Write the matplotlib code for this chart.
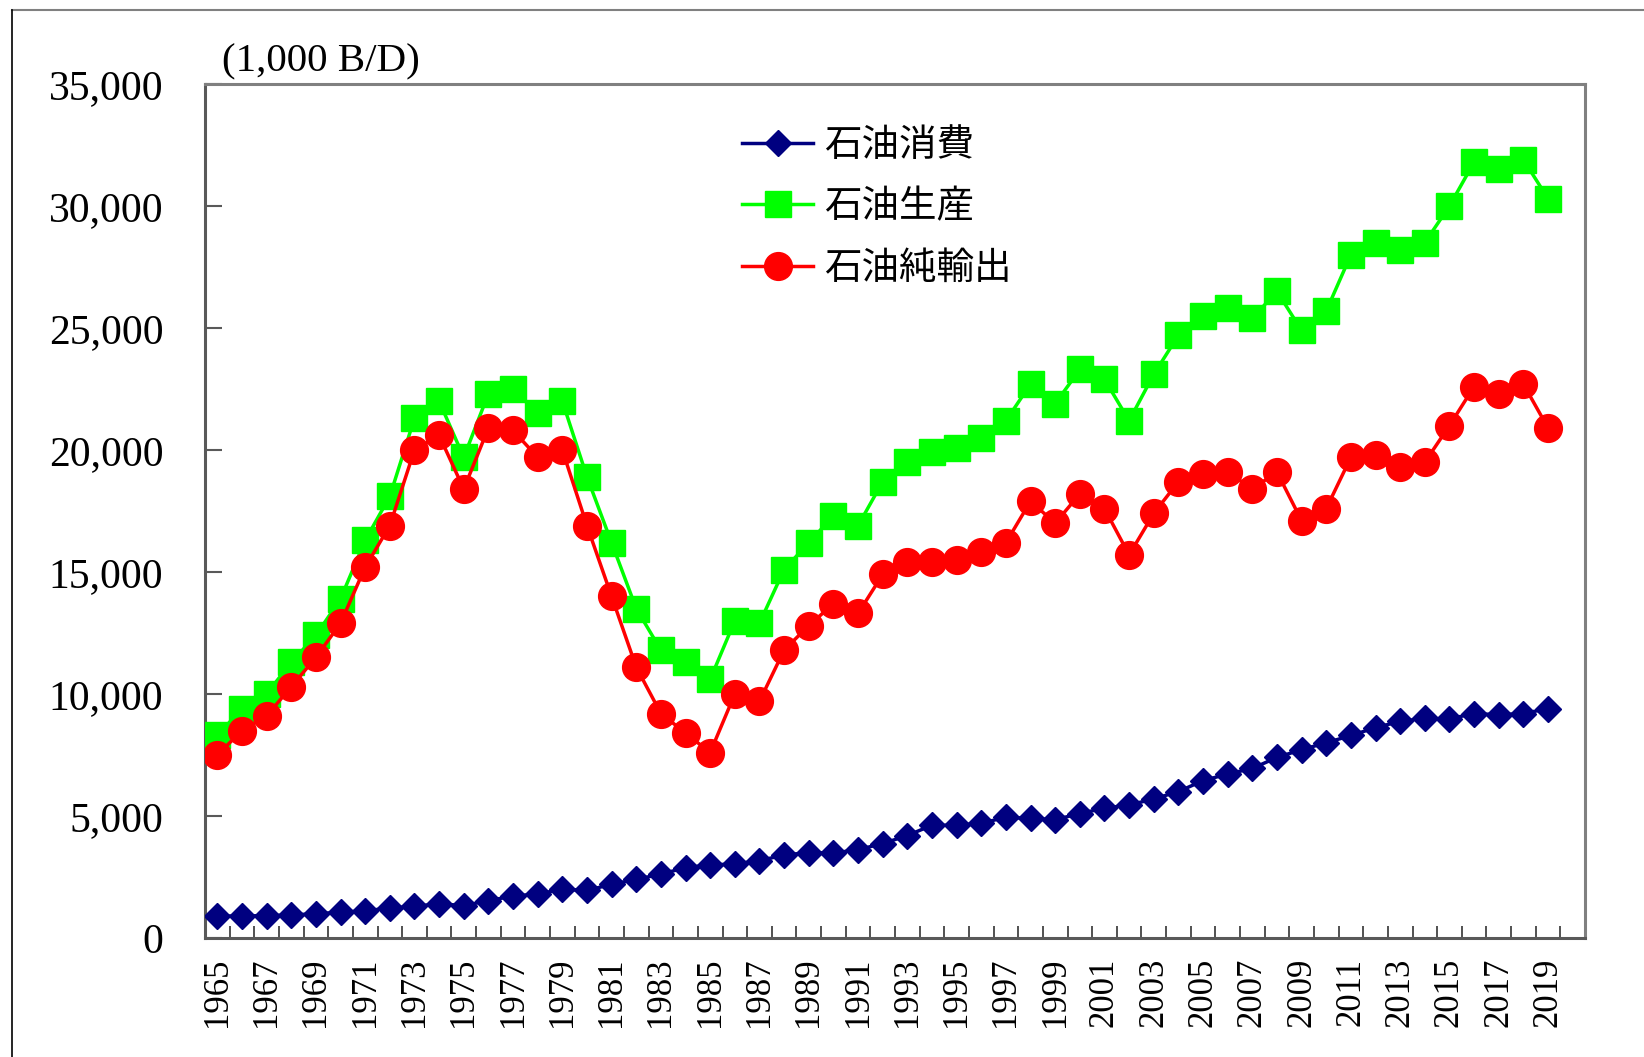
import matplotlib
matplotlib.use("Agg")
from matplotlib import pyplot as plt
from matplotlib.lines import Line2D
import numpy as np

years = list(range(1965, 2020))

consumption = [900, 900, 920, 940, 1000, 1050, 1120, 1220, 1300, 1400,
               1330, 1530, 1720, 1800, 2000, 1950, 2200, 2400, 2620, 2880,
               3000, 3030, 3170, 3400, 3500, 3480, 3620, 3870, 4200, 4620,
               4620, 4700, 4950, 4900, 4850, 5100, 5320, 5450, 5700, 6000,
               6450, 6720, 6950, 7400, 7720, 8000, 8300, 8620, 8880, 9000,
               8980, 9200, 9150, 9200, 9400]

production = [8300, 9400, 10000, 11300, 12400, 13900, 16300, 18100, 21300, 22000,
              19700, 22300, 22500, 21500, 22000, 18900, 16200, 13500, 11800, 11300,
              10600, 13000, 12900, 15100, 16200, 17300, 16900, 18700, 19500, 19900,
              20100, 20500, 21200, 22700, 21900, 23300, 22900, 21200, 23100, 24700,
              25500, 25800, 25400, 26500, 24900, 25700, 28000, 28500, 28200, 28500,
              30000, 31800, 31500, 31900, 30300]

net_export = [7500, 8500, 9100, 10300, 11500, 12900, 15200, 16900, 20000, 20600,
              18400, 20900, 20800, 19700, 20000, 16900, 14000, 11100, 9200, 8400,
              7600, 10000, 9700, 11800, 12800, 13700, 13300, 14900, 15400, 15400,
              15500, 15800, 16200, 17900, 17000, 18200, 17600, 15700, 17400, 18700,
              19000, 19100, 18400, 19100, 17100, 17600, 19700, 19800, 19300, 19500,
              21000, 22600, 22300, 22700, 20900]

series_names = ["石油消費", "石油生産", "石油純輸出"]
y_ticks = [0, 5000, 10000, 15000, 20000, 25000, 30000, 35000]
y_labels = ["0", "5,000", "10,000", "15,000", "20,000", "25,000", "30,000", "35,000"]

W, H = 1644, 1057
fig = plt.figure(figsize=(W / 100, H / 100), dpi=100)
ax = fig.add_axes([205 / W, 1 - 938 / H, (1585 - 205) / W, (938 - 84) / H])

x = np.arange(len(years))
ax.plot(x, consumption, color="#000080", lw=2.5, marker="D", ms=13.7,
        label=series_names[0], zorder=3)
ax.plot(x, production, color="#00FF00", lw=2.5, marker="s", ms=19,
        label=series_names[1], zorder=4)
ax.plot(x, net_export, color="#FF0000", lw=2.5, marker="o", ms=20,
        label=series_names[2], zorder=5)

# one empty category slot is left at the right end, as in the original
n_slots = len(years) + 1
ax.set_xlim(-0.5, n_slots - 0.5)
ax.set_ylim(0, 35000)
ax.set_yticks(y_ticks)
ax.set_yticklabels(y_labels, fontfamily="Liberation Serif", fontsize=30)
ax.tick_params(axis="y", direction="in", length=12, width=1.5, pad=30,
               color="#595959")

ax.set_xticks(x)
ax.set_xticklabels([str(y) if i % 2 == 0 else "" for i, y in enumerate(years)],
                   rotation=90, fontfamily="Liberation Serif", fontsize=25)
ax.tick_params(axis="x", which="major", length=0, pad=14)
ax.set_xticks(np.arange(-0.5, n_slots - 1, 1.0), minor=True)
ax.tick_params(axis="x", which="minor", direction="in", length=9, width=1.2,
               color="#333333")

for side in ["top", "right"]:
    ax.spines[side].set_color("#808080")
    ax.spines[side].set_linewidth(2.2)
for side in ["left", "bottom"]:
    ax.spines[side].set_color("#595959")
    ax.spines[side].set_linewidth(2.2)

fig.text(222 / W, 1 - 71 / H, "(1,000 B/D)", fontfamily="Liberation Serif",
         fontsize=29.5, va="baseline", ha="left")

leg = ax.legend(loc="upper left", bbox_to_anchor=(742 / W, 1 - 126 / H),
                bbox_transform=fig.transFigure, frameon=False,
                prop={"family": ["Noto Sans CJK JP", "DejaVu Sans"], "size": 27},
                handlelength=1.9, handletextpad=0.3, labelspacing=0.6,
                borderpad=0, borderaxespad=0)

# outer frame (top and left edges only)
fig.add_artist(Line2D([12 / W, 1], [1 - 10 / H, 1 - 10 / H], color="#808080",
                      lw=1.5, transform=fig.transFigure))
fig.add_artist(Line2D([12 / W, 12 / W], [0, 1 - 10 / H], color="black",
                      lw=1.2, transform=fig.transFigure))

fig.savefig("out.png", dpi=100)
